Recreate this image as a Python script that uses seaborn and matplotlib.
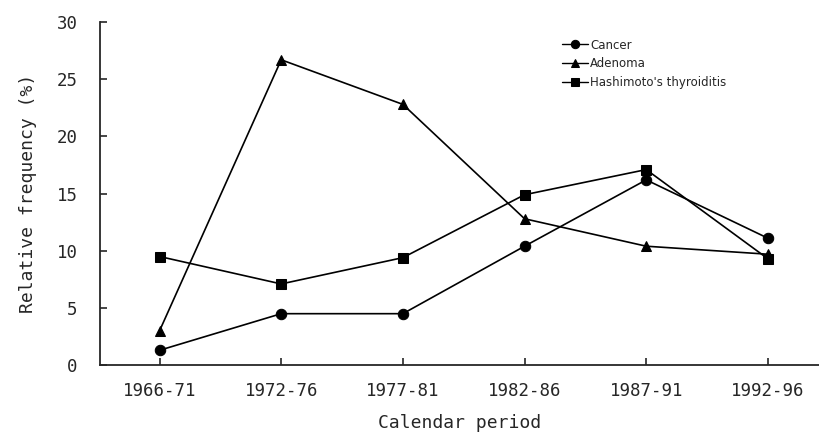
import pandas as pd
import matplotlib
matplotlib.use("Agg")
import matplotlib.pyplot as plt
import seaborn as sns

periods = ["1966-71", "1972-76", "1977-81", "1982-86", "1987-91", "1992-96"]
cancer = [1.3, 4.5, 4.5, 10.4, 16.2, 11.1]
adenoma = [3.0, 26.7, 22.8, 12.8, 10.4, 9.7]
hashimoto = [9.5, 7.1, 9.4, 14.9, 17.1, 9.3]

data = pd.DataFrame({
    "period": periods * 3,
    "value": cancer + adenoma + hashimoto,
    "group": ["Cancer"] * 6 + ["Adenoma"] * 6 + ["Hashimoto's thyroiditis"] * 6,
})

sns.set_style("ticks")
plt.rcParams['font.family'] = ['DejaVu Sans']

fig = plt.figure(figsize=(8.19, 4.41), dpi=100)
ax = fig.add_axes([0.122, 0.172, 0.878, 0.778])

sns.lineplot(data=data, x="period", y="value", hue="group", style="group",
             markers={"Cancer": "o", "Adenoma": "^", "Hashimoto's thyroiditis": "s"},
             dashes=False, palette=["black"] * 3, markersize=7.5, linewidth=1.2,
             markeredgecolor="black", sort=False, ax=ax)

ax.set_xlim(-0.49, 5.42)
ax.set_ylim(0, 30)
ax.set_yticks(range(0, 31, 5))
ax.tick_params(direction="in", length=5, width=1.2, labelsize=12.5, pad=12)
ax.tick_params(axis="y", pad=16)
for lab in ax.get_xticklabels() + ax.get_yticklabels():
    lab.set_family("DejaVu Sans Mono")
for s in ["top", "right"]:
    ax.spines[s].set_visible(False)
for s in ["left", "bottom"]:
    ax.spines[s].set_linewidth(1.3)

ax.set_xlabel("Calendar period", family="DejaVu Sans Mono", fontsize=13, labelpad=10)
ax.set_ylabel("Relative frequency (%)", family="DejaVu Sans Mono", fontsize=13, labelpad=14)

leg = ax.legend(loc="upper left", bbox_to_anchor=(0.642, 0.952), frameon=False,
                borderaxespad=0, borderpad=0,
                fontsize=8.5, handlelength=2.2, handletextpad=0.2, labelspacing=0.5,
                markerscale=0.8)
for line in leg.get_lines():
    line.set_linewidth(1.0)

fig.savefig("out.png", dpi=100)
